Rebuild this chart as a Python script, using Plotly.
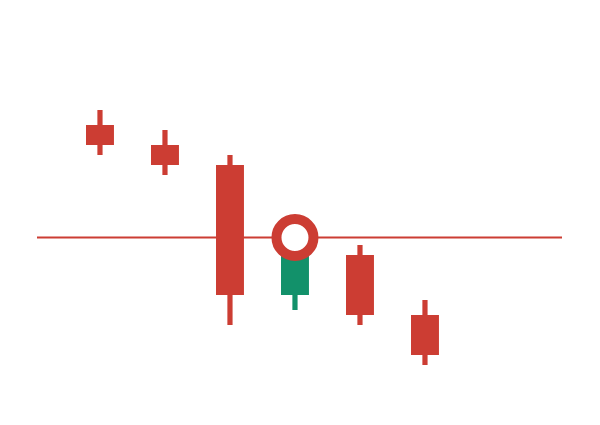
import plotly.graph_objects as go

# Data (price units)
x_idx = [0, 1, 2, 3, 4, 5]
open_ = [27.5, 25.5, 23.5, 10.5, 14.5, 8.5]
high = [29.0, 27.0, 24.5, 16.25, 15.5, 10.0]
low = [24.5, 22.5, 7.5, 9.0, 7.5, 3.5]
close = [25.5, 23.5, 10.5, 16.25, 8.5, 4.5]
ref_level = 16.25
marker_idx = 3

RED = "#CC3D33"
GREEN = "#12916A"

colors = [GREEN if c > o else RED for o, c in zip(open_, close)]
body_base = [min(o, c) for o, c in zip(open_, close)]
body_len = [abs(c - o) for o, c in zip(open_, close)]
wick_len = [h - l for h, l in zip(high, low)]

fig = go.Figure()
fig.add_trace(go.Bar(x=x_idx, y=wick_len, base=low, width=0.08,
                     marker=dict(color=colors, line=dict(width=0)),
                     hoverinfo="skip", showlegend=False))
fig.add_trace(go.Bar(x=x_idx, y=body_len, base=body_base, width=0.43,
                     marker=dict(color=colors, line=dict(width=0)),
                     hoverinfo="skip", showlegend=False))
fig.add_trace(go.Scatter(x=[x_idx[marker_idx]], y=[close[marker_idx]], mode="markers",
                         marker=dict(size=37, color="white", line=dict(color=RED, width=10)),
                         hoverinfo="skip", showlegend=False))

fig.add_shape(type="line", xref="paper", x0=0, x1=1, yref="y", y0=ref_level, y1=ref_level,
              line=dict(color=RED, width=2), layer="below")

fig.update_layout(
    width=600, height=425,
    margin=dict(l=29, r=46, t=0, b=0),
    paper_bgcolor="white", plot_bgcolor="white",
    barmode="overlay",
    xaxis=dict(range=[-0.969, 7.108], visible=False, fixedrange=True),
    yaxis=dict(range=[-3.3, 39.2], visible=False, fixedrange=True),
)

fig.write_html("out.html", config={"displayModeBar": False})
